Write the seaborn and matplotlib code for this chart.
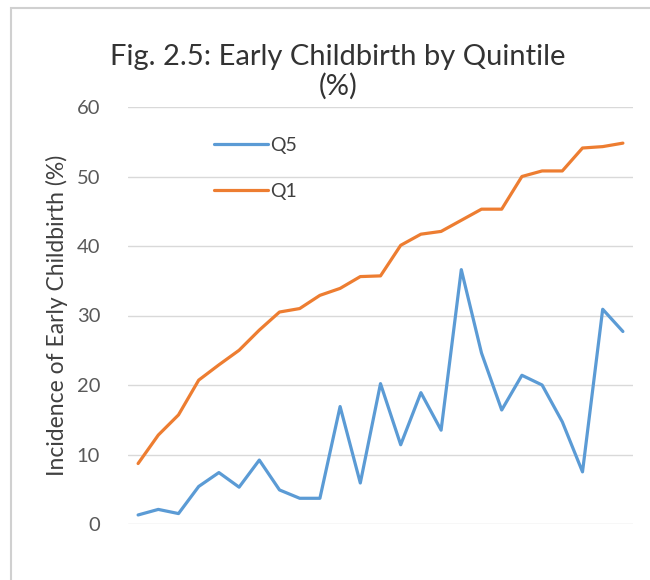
import pandas as pd
import seaborn as sns
import matplotlib.pyplot as plt
from matplotlib.patches import Rectangle

# values (25 unlabeled categories)
q5 = [1.3, 2.1, 1.5, 5.4, 7.4, 5.3, 9.2, 4.9, 3.7, 3.7, 16.9, 5.9, 20.2,
      11.4, 18.9, 13.5, 36.6, 24.6, 16.4, 21.4, 20.0, 14.7, 7.5, 30.9, 27.7]
q1 = [8.7, 12.8, 15.7, 20.7, 22.9, 25.0, 27.9, 30.5, 31.0, 32.9, 33.9, 35.6, 35.7,
      40.1, 41.7, 42.1, 43.7, 45.3, 45.3, 50.0, 50.8, 50.8, 54.1, 54.3, 54.8]
series_names = ["Q5", "Q1"]
yticks = [0, 10, 20, 30, 40, 50, 60]

df = pd.DataFrame({
    "idx": list(range(len(q5))) * 2,
    "val": q5 + q1,
    "grp": ["Q5"] * len(q5) + ["Q1"] * len(q1),
})

sns.set_theme(style="white")
plt.rcParams['font.family'] = ['Lato', 'DejaVu Sans']

fig = plt.figure(figsize=(6.5, 5.8), dpi=100)
ax = fig.add_axes([128/650, 1-524/580, 505/650, 417/580])

sns.lineplot(data=df, x="idx", y="val", hue="grp", hue_order=series_names,
             palette={"Q5": "#5B9BD5", "Q1": "#ED7D31"}, linewidth=2.3, ax=ax)

ax.set_xlim(-0.5, len(q5) - 0.5)
ax.set_ylim(0, 60)
ax.set_yticks(yticks)
ax.set_xticks([])
ax.yaxis.grid(True, color="#d9d9d9", linewidth=1)
ax.set_axisbelow(True)
for s in ax.spines.values():
    s.set_visible(False)
ax.tick_params(axis="y", length=0, labelsize=14.5, labelcolor="#595959", pad=20)
ax.set_xlabel("")
ax.set_ylabel("Incidence of Early Childbirth (%)", fontsize=16.5, color="#404040", labelpad=6)

leg = ax.legend(loc="upper left", bbox_to_anchor=(0.135, 0.97), frameon=False,
                fontsize=14, handlelength=2.8, labelspacing=1.5, handletextpad=0.1)
for t in leg.get_texts():
    t.set_color("#404040")

fig.text(0.52, 1-95/580, "Fig. 2.5: Early Childbirth by Quintile\n(%)", ha="center",
         va="baseline", fontsize=21, color="#333333", linespacing=1.15)

fig.add_artist(Rectangle((11/650, -0.1), 1.1, 1.1-8/580, transform=fig.transFigure,
                         fill=False, edgecolor="#d0d0d0", linewidth=1.5))

fig.savefig("out.png", dpi=100)
